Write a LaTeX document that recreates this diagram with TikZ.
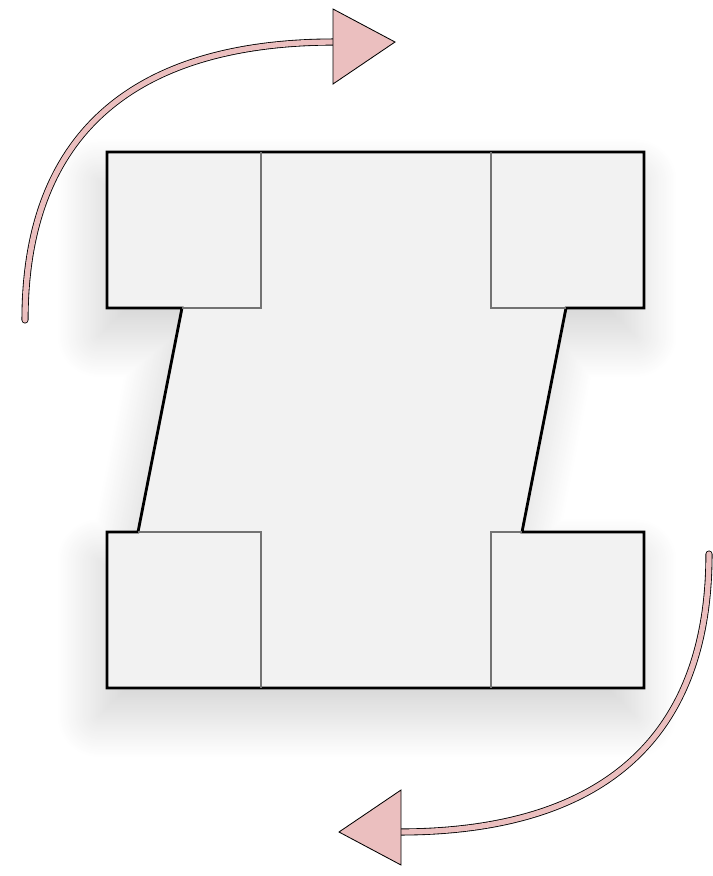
\documentclass[tikz,border=0pt]{standalone}
\usetikzlibrary{shadows.blur}
\definecolor{bodygray}{HTML}{F2F2F2}
\definecolor{arrowpink}{HTML}{EBBFBF}
\begin{document}
\begin{tikzpicture}[
    x=0.025cm,y=-0.025cm,
    chassis/.style={
        fill=bodygray,
        draw=black,
        line width=2pt,
        line join=miter,
        blur shadow={shadow xshift=-6pt, shadow yshift=-20pt,
            shadow blur radius=30pt, shadow blur steps=40,
            shadow opacity=18}
    },
    wheeledge/.style={draw=black!55, line width=0.8pt},
    turnshaft/.style={
        draw=black,
        line width=0.6pt,
        double=arrowpink,
        double distance=3.8pt,
        line cap=round
    },
    turnhead/.style={fill=arrowpink, draw=black, line width=0.6pt, line join=miter}
]
\useasboundingbox (0,0) rectangle (712,876);

% body with the four wheel blocks
\path[chassis] (107,152) -- (644,152) -- (644,308) -- (566,308) -- (522,532)
    -- (644,532) -- (644,688) -- (107,688) -- (107,532) -- (138,532)
    -- (182,308) -- (107,308) -- cycle;

% inner edges of the wheel blocks
\draw[wheeledge] (182,308) -- (261,308) -- (261,152);
\draw[wheeledge] (566,308) -- (491,308) -- (491,152);
\draw[wheeledge] (138,532) -- (261,532) -- (261,688);
\draw[wheeledge] (522,532) -- (491,532) -- (491,688);

% rotation arrows
\draw[turnshaft] (25,320) .. controls (25,120) and (150,42) .. (335,42);
\draw[turnhead] (333,9) -- (395,42) -- (333,84) -- cycle;

\draw[turnshaft] (709,554) .. controls (709,754) and (584,832) .. (399,832);
\draw[turnhead] (401,865) -- (339,832) -- (401,790) -- cycle;

\end{tikzpicture}
\end{document}
